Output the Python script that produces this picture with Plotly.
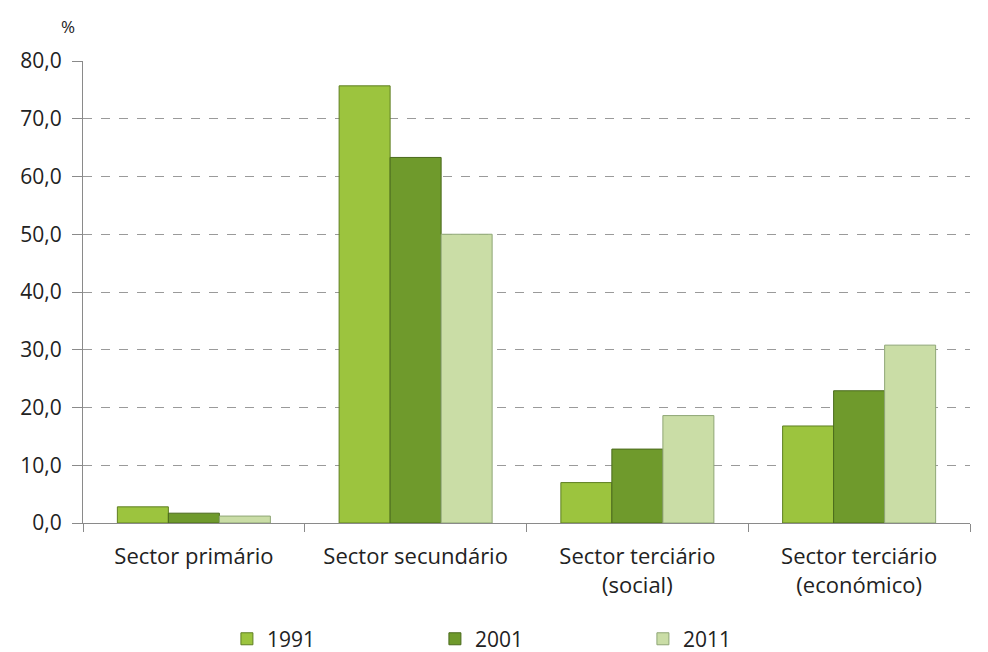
import plotly.graph_objects as go

categories = ["Sector primário", "Sector secundário", "Sector terciário<br>(social)", "Sector terciário<br>(económico)"]
years = ["1991", "2001", "2011"]
v1991 = [2.8, 75.7, 7.0, 16.8]
v2001 = [1.7, 63.3, 12.8, 22.9]
v2011 = [1.2, 50.0, 18.6, 30.8]
yticks = [0, 10, 20, 30, 40, 50, 60, 70, 80]

colors = ["#9cc43e", "#6f9a2c", "#cadda6"]
lines = ["#5f7f22", "#4a6a1c", "#8fa676"]

fig = go.Figure()
for name, vals, c, lc in zip(years, [v1991, v2001, v2011], colors, lines):
    fig.add_trace(go.Bar(x=categories, y=vals, name=name,
                         marker=dict(color=c, line=dict(color=lc, width=1))))

fig.update_layout(
    width=980, height=644,
    margin=dict(l=75, r=18, t=53, b=129, autoexpand=False),
    paper_bgcolor="white", plot_bgcolor="white",
    font=dict(family="Open Sans, sans-serif", size=21, color="#222"),
    barmode="group", bargap=0.31, bargroupgap=0,
    separators=",.",
    legend=dict(orientation="h", x=0.514, xanchor="center", yref="container", y=0.02, yanchor="middle",
                entrywidth=163, font=dict(size=21)),
    showlegend=True,
)
fig.update_yaxes(range=[0, 80], tickvals=yticks, tickformat=".1f", automargin=False,
                 showgrid=True, gridcolor="#9a9a9a", griddash="dash", gridwidth=1,
                 showline=True, linecolor="#8a8a8a", ticks="outside", ticklen=10,
                 tickcolor="#8a8a8a", zeroline=False, tickfont=dict(size=21),
                 ticklabelstandoff=6)
fig.update_xaxes(showline=True, linecolor="#8a8a8a", ticks="outside", tickson="boundaries",
                 ticklen=8, tickcolor="#8a8a8a", automargin=False, ticklabelstandoff=14,
                 tickfont=dict(size=22))
fig.add_annotation(text="%", xref="paper", yref="paper", x=-0.017, y=1.075,
                   showarrow=False, xanchor="center", yanchor="middle", font=dict(size=17))
fig.write_html("out.html")
